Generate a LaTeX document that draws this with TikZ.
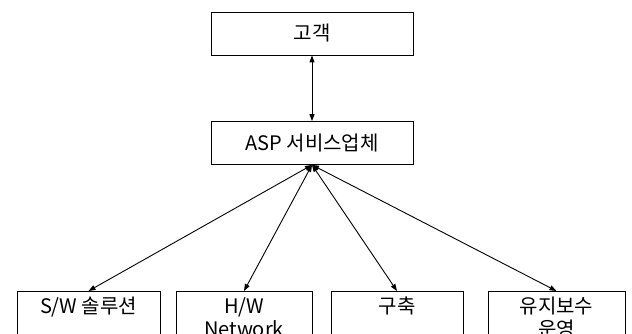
\documentclass[tikz,border=0pt]{standalone}
\usepackage{fontspec}
\setmainfont{Noto Sans CJK KR}
\usetikzlibrary{arrows.meta}

\begin{document}
\begin{tikzpicture}
                [
                    x=1pt,y=-1pt,
                    box/.style={rectangle,draw=black,line width=0.8pt,inner sep=0,minimum width=202pt,minimum height=43pt,font=\fontsize{20}{23}\selectfont},
                    low/.style={rectangle,draw=black,line width=0.8pt,anchor=north,align=center,inner sep=3pt,minimum width=#1,text height=19pt,text depth=50pt,font=\fontsize{20}{23}\selectfont},
                    two/.style={text height=42pt,text depth=27pt},
                    link/.style={{Triangle[length=7pt,width=5pt]}-{Triangle[length=7pt,width=5pt]},line width=0.9pt,draw=black},
                ]
                \useasboundingbox (0,0) rectangle (632,333);
                \clip (0,0) rectangle (632,333);
                \draw (312,33.5) node[box] (c) {고객};
                \draw (312,143) node[box] (a) {ASP 서비스업체};
                \draw (88.5,291) node[low=143pt] (sw) {S/W 솔루션};
                \draw (244,291) node[low=136pt,two] (hw) {H/W\\Network};
                \draw (397,291) node[low=132pt] (g) {구축};
                \draw (556.5,291) node[low=137pt,two] (m) {유지보수\\운영};
                \draw[link] (c) -- (a);
                \draw[link] (a.south) -- (sw.north);
                \draw[link] (a.south) -- (hw.north);
                \draw[link] (a.south) -- (g.north);
                \draw[link] (a.south) -- (m.north);
            \end{tikzpicture}
\end{document}
